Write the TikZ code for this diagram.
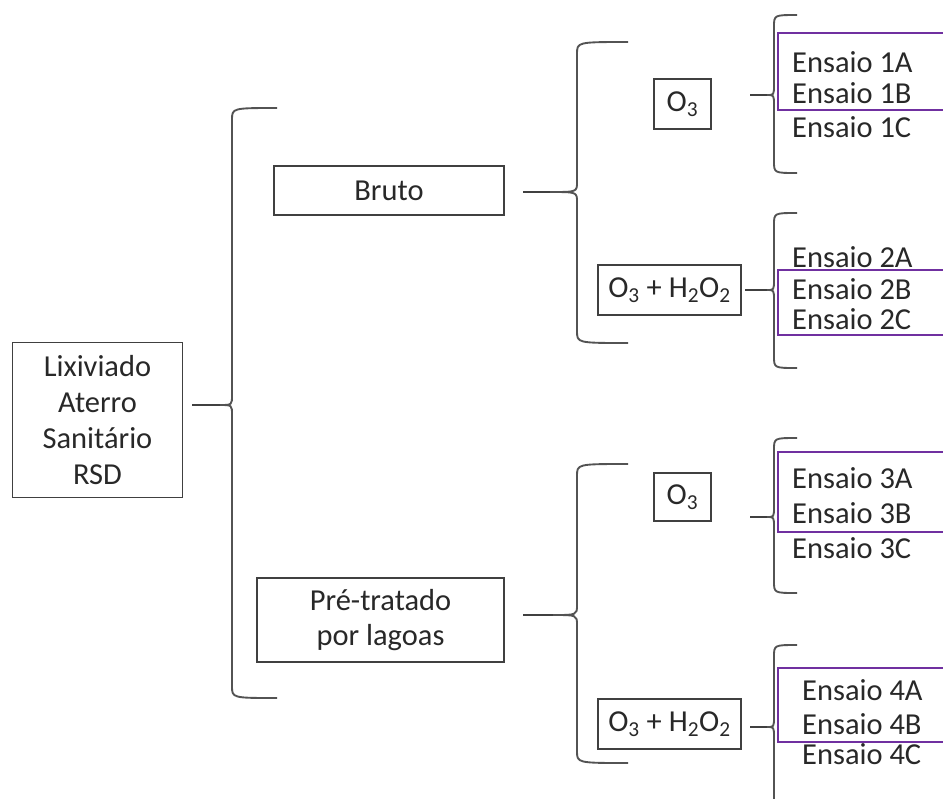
\documentclass[tikz,border=0pt]{standalone}
\usepackage{fontspec}
\setmainfont{Carlito}
\usepackage{tikz}
\usetikzlibrary{positioning}
\definecolor{lxGray}{RGB}{64,64,64}
\definecolor{lxText}{RGB}{40,40,40}
\definecolor{lxPurple}{RGB}{112,48,160}
\tikzset{
    base/.style={font=\fontsize{26}{31}\selectfont, text=lxText, align=center},
    stage/.style={base, rectangle, draw=lxGray, line width=1.6pt, inner sep=0pt},
    brace/.style={draw=lxGray!90, line width=1.6pt},
    tick/.style={draw=lxGray, line width=1.7pt},
    group/.style={draw=lxPurple, line width=1.9pt},
    trial/.style={base, anchor=west, inner sep=0pt}
}
% curly bracket: x, top, tip y, bottom, tip x, end x
\newcommand{\curly}[6]{%
  \draw[brace] (#6,#2) .. controls (#1,#2) .. (#1,#2+12) -- (#1,#3-10)
    .. controls (#1,#3) .. (#5,#3) .. controls (#1,#3) .. (#1,#3+10)
    -- (#1,#4-12) .. controls (#1,#4) .. (#6,#4);}

\begin{document}
\begin{tikzpicture}[x=0.03cm, y=-0.03cm]
  \useasboundingbox (0,0) rectangle (943,798);
  \clip (0,0) rectangle (943,798);

  % Boxes
  \node[stage, minimum width=5.1cm, minimum height=4.65cm] (lix) at (97.5,420)
    {Lixiviado\\Aterro\\Sanitário\\RSD};
  \node[stage, minimum width=6.9cm, minimum height=1.47cm] (bruto) at (389,190.5) {Bruto};
  \node[stage, minimum width=7.41cm, minimum height=2.52cm] (pre) at (380.5,620)
    {Pré-tratado\\[-1pt]por lagoas};
  \node[stage, minimum width=1.71cm, minimum height=1.5cm] (ozA) at (682.5,104) {O\textsubscript{3}};
  \node[stage, minimum width=4.29cm, minimum height=1.5cm] (perA) at (669.5,290)
    {O\textsubscript{3} + H\textsubscript{2}O\textsubscript{2}};
  \node[stage, minimum width=1.71cm, minimum height=1.44cm] (ozB) at (682.5,497) {O\textsubscript{3}};
  \node[stage, minimum width=4.29cm, minimum height=1.5cm] (perB) at (669.5,724)
    {O\textsubscript{3} + H\textsubscript{2}O\textsubscript{2}};

  % Braces
  \curly{232}{108}{405}{698}{220}{277}
  \curly{577}{42}{192}{343}{550}{628}
  \curly{577}{464}{615}{763}{553}{628}
  \curly{774}{15}{95}{173}{767}{797}
  \curly{774}{213}{290}{368}{767}{797}
  \curly{774}{438}{517}{593}{767}{797}
  \curly{774}{645}{727}{830}{767}{797}

  % Ticks
  \coordinate (tLix) at (192,405);   \coordinate (bLix) at (220,405);
  \coordinate (tBru) at (523,192);   \coordinate (bBru) at (550,192);
  \coordinate (tPre) at (523,615);   \coordinate (bPre) at (553,615);
  \coordinate (tOzA) at (750,95);    \coordinate (bOzA) at (767,95);
  \coordinate (tPerA) at (745,290);  \coordinate (bPerA) at (767,290);
  \coordinate (tOzB) at (750,517);   \coordinate (bOzB) at (767,517);
  \coordinate (tPerB) at (750,727);  \coordinate (bPerB) at (767,727);
  \foreach \k in {Lix,Bru,Pre,OzA,PerA,OzB,PerB}
    \draw[tick] (t\k) -- (b\k);

  % Trials
  \node[trial] (e1a) at (792,62)  {Ensaio 1A};
  \node[trial] (e1b) at (792,93)  {Ensaio 1B};
  \node[trial] (e1c) at (792,127) {Ensaio 1C};
  \node[trial] (e2a) at (792,257) {Ensaio 2A};
  \node[trial] (e2b) at (792,289) {Ensaio 2B};
  \node[trial] (e2c) at (792,319) {Ensaio 2C};
  \node[trial] (e3a) at (792,478) {Ensaio 3A};
  \node[trial] (e3b) at (792,513) {Ensaio 3B};
  \node[trial] (e3c) at (792,548) {Ensaio 3C};
  \node[trial] (e4a) at (802,690) {Ensaio 4A};
  \node[trial] (e4b) at (802,724) {Ensaio 4B};
  \node[trial] (e4c) at (802,754) {Ensaio 4C};

  % Selected pairs
  \draw[group] (778,33) rectangle (960,110);
  \draw[group] (778,270) rectangle (960,335);
  \draw[group] (778,452) rectangle (960,532);
  \draw[group] (778,668) rectangle (960,742);
\end{tikzpicture}
\end{document}
